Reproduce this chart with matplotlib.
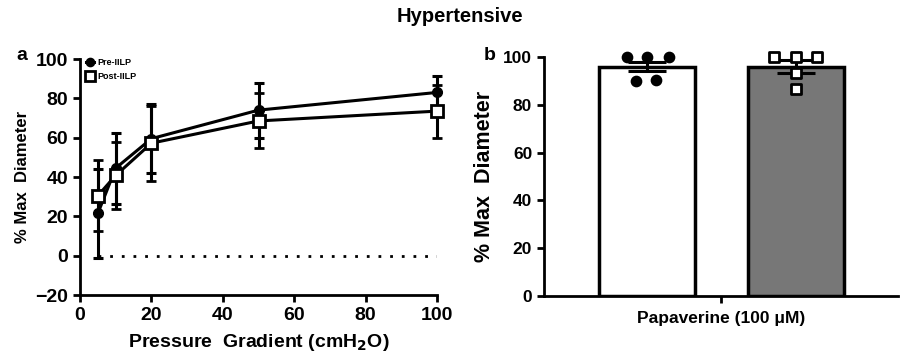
import matplotlib
matplotlib.use("Agg")
import matplotlib.pyplot as plt
import numpy as np

plt.rcParams['font.family'] = ['Liberation Sans', 'DejaVu Sans']
plt.rcParams['font.weight'] = 'bold'

# Panel a data
pressure = [5, 10, 20, 50, 100]
pre_mean = [21.5, 44.5, 59.5, 74, 83]
pre_err = [22.5, 18, 17.5, 14, 8.6]
post_mean = [30.5, 40.8, 57.2, 68.5, 73.5]
post_err = [18, 17, 19, 14, 13.5]

# Panel b data
groups = ["Pre-IILP", "Post-IILP"]
bar_mean = [96, 96]
bar_sem = [2, 2.7]
pre_points = [100, 100, 100, 90, 90.5]
post_points = [100, 100, 100, 93.5, 86.5]

fig = plt.figure(figsize=(9.01, 3.56), dpi=100)
W, H = 901, 356

def ax_rect(l, t, r, b):
    return [l / W, 1 - b / H, (r - l) / W, (b - t) / H]

# ---- Panel a ----
ax = fig.add_axes(ax_rect(80, 59, 437, 295))
lw = 2.2
ax.plot([5, 100], [0, 0], linestyle=(0, (1, 3.2)), color='black', lw=2)
e1 = ax.errorbar(pressure, pre_mean, yerr=pre_err, color='black', lw=lw, marker='o',
                 ms=7, mfc='black', mec='black', capsize=3.5, capthick=lw, elinewidth=lw,
                 label='Pre-IILP', zorder=3)
e2 = ax.errorbar(pressure, post_mean, yerr=post_err, color='black', lw=lw, marker='s',
                 ms=8, mfc='white', mec='black', mew=2, capsize=3.5, capthick=lw,
                 elinewidth=lw, label='Post-IILP', zorder=4)
for e in (e1, e2):
    for art in e.get_children():
        art.set_clip_on(False)
ax.set_xlim(0, 100)
ax.set_ylim(-20, 100)
ax.set_xticks([0, 20, 40, 60, 80, 100])
ax.set_yticks([-20, 0, 20, 40, 60, 80, 100])
ax.set_yticklabels(['\u221220', '0', '20', '40', '60', '80', '100'])
for s in ['top', 'right']:
    ax.spines[s].set_visible(False)
for s in ['left', 'bottom']:
    ax.spines[s].set_linewidth(2)
ax.tick_params(width=2, length=5, labelsize=14, direction='out')
for lab in ax.get_xticklabels() + ax.get_yticklabels():
    lab.set_fontweight('bold')
ax.set_xlabel('Pressure  Gradient (cmH$_\\mathbf{2}$O)', fontsize=14, fontweight='bold', labelpad=6)
ax.set_ylabel('% Max  Diameter', fontsize=12, fontweight='bold', labelpad=4)
h, l = ax.get_legend_handles_labels()
leg = ax.legend([hh[0] for hh in h], l, loc='upper left', bbox_to_anchor=(0.0, 1.03),
                frameon=False, fontsize=6.5, handlelength=0.8, handletextpad=0.4,
                labelspacing=0.5, borderaxespad=0.3, markerscale=0.85)
for t in leg.get_texts():
    t.set_fontweight('bold')
fig.text(22 / W, 1 - 55 / H, 'a', fontsize=14, fontweight='bold', ha='center', va='center')

# ---- Panel b ----
bx = fig.add_axes(ax_rect(544, 57, 898, 296))
xpos = np.arange(len(groups))
bx.bar(xpos, bar_mean, width=0.646, color=['white', '#777777'], edgecolor='black',
       linewidth=2.5, zorder=1)
jit = [-0.135, 0.0, 0.145, -0.075, 0.06]
jit2 = [-0.145, 0.0, 0.145, 0.0, 0.0]
eb = bx.errorbar(xpos, bar_mean, yerr=bar_sem, fmt='none', ecolor='black', elinewidth=2.2,
                 capsize=14, capthick=2.2, zorder=2)
s1 = bx.scatter(np.array(jit) + xpos[0], pre_points, s=55, color='black', zorder=3)
s2 = bx.scatter(np.array(jit2) + xpos[1], post_points, s=45, marker='s', facecolor='white',
                edgecolor='black', linewidths=2, zorder=3)
s1.set_clip_on(False)
s2.set_clip_on(False)
bx.set_xlim(-0.694, 1.69)
bx.set_ylim(0, 100)
bx.set_yticks([0, 20, 40, 60, 80, 100])
bx.set_xticks([0.5])
bx.set_xticklabels([''])
for s in ['top', 'right']:
    bx.spines[s].set_visible(False)
for s in ['left', 'bottom']:
    bx.spines[s].set_linewidth(2)
bx.tick_params(width=2, length=5, labelsize=12.5, direction='out')
for lab in bx.get_yticklabels():
    lab.set_fontweight('bold')
bx.set_xlabel('Papaverine (100 \u03bcM)', fontsize=12.5, fontweight='bold', labelpad=2)
bx.set_ylabel('% Max  Diameter', fontsize=15.5, fontweight='bold', labelpad=6)
fig.text(490 / W, 1 - 55 / H, 'b', fontsize=14, fontweight='bold', ha='center', va='center')

fig.text(460 / W, 1 - 17 / H, 'Hypertensive', fontsize=14.5, fontweight='bold', ha='center', va='center')

fig.savefig('out.png', dpi=100)
